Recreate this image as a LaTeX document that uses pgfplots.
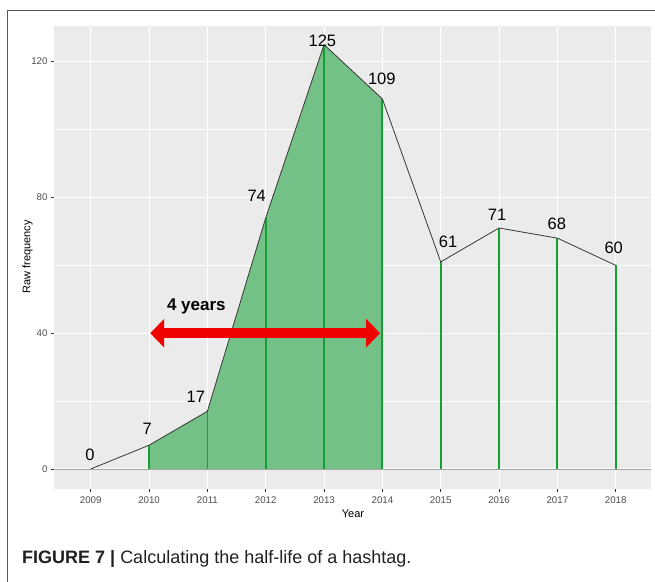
\documentclass[border=0pt]{standalone}
\usepackage{pgfplots}
\pgfplotsset{compat=1.18}
\usetikzlibrary{arrows.meta}
\usepackage{fontspec}
\setmainfont{Liberation Sans}
\definecolor{panelbg}{HTML}{EBEBEB}
\definecolor{areagreen}{RGB}{116,193,135}
\definecolor{linegreen}{RGB}{22,160,52}
\definecolor{dataline}{RGB}{55,55,55}
\definecolor{zeroline}{RGB}{165,165,165}
\definecolor{arrowred}{RGB}{240,0,0}
\definecolor{framec}{RGB}{85,85,85}
\definecolor{gray30}{HTML}{4D4D4D}
\definecolor{gray20}{HTML}{333333}
\begin{document}
\begin{tikzpicture}
\begin{axis}[
  at={(54pt,-489pt)}, anchor=south west,
  scale only axis, width=597pt, height=463pt,
  xmin=2008.37, xmax=2018.605, ymin=-5.9, ymax=130.5,
  axis background/.style={fill=panelbg},
  axis line style={draw=none},
  xtick={2009,2010,2011,2012,2013,2014,2015,2016,2017,2018},
  ytick={0,40,80,120},
  minor ytick={20,60,100},
  xmajorgrids, ymajorgrids, yminorgrids,
  major grid style={white, line width=1.1pt},
  minor grid style={white, line width=0.55pt},
  tick align=outside,
  major tick length=3pt, minor tick length=0pt,
  tick style={gray20, line width=0.6pt},
  xtick pos=bottom, ytick pos=left,
  /pgf/number format/assume math mode=true,
  /pgf/number format/1000 sep={},
  ticklabel style={font=\fontsize{9.7}{10}\selectfont, text=gray30},
  xticklabel style={yshift=-1pt},
  clip=false,
]
% area from 2010 to 2014
\addplot[draw=none, fill=areagreen] coordinates {(2010,7) (2011,17) (2012,74) (2013,125) (2014,109)} \closedcycle;
% zero line
\addplot[zeroline, line width=0.9pt] coordinates {(2008.37,0) (2018.605,0)};
% vertical green lines
\addplot[ycomb, linegreen, line width=1.8pt, mark=none] coordinates {
(2010,7) (2011,17) (2012,74) (2013,125) (2014,109) (2015,61) (2016,71) (2017,68) (2018,60)};
% main line
\addplot[dataline, line width=0.8pt, mark=none] coordinates {
(2009,0) (2010,7) (2011,17) (2012,74) (2013,125) (2014,109) (2015,61) (2016,71) (2017,68) (2018,60)};
% labels
\tikzset{lbl/.style={font=\fontsize{16.5}{17}\selectfont, text=black, inner sep=0pt}}
\node[lbl, xshift=-0.7pt, yshift=14pt] at (axis cs:2009,0) {0};
\node[lbl, xshift=-1.8pt, yshift=16pt] at (axis cs:2010,7) {7};
\node[lbl, xshift=-11.5pt, yshift=14pt] at (axis cs:2011,17) {17};
\node[lbl, xshift=-9pt, yshift=22pt] at (axis cs:2012,74) {74};
\node[lbl, xshift=-1.7pt, yshift=4pt] at (axis cs:2013,125) {125};
\node[lbl, xshift=-0.6pt, yshift=20pt] at (axis cs:2014,109) {109};
\node[lbl, xshift=7.4pt, yshift=20pt] at (axis cs:2015,61) {61};
\node[lbl, xshift=-2pt, yshift=13pt] at (axis cs:2016,71) {71};
\node[lbl, xshift=-0.5pt, yshift=14pt] at (axis cs:2017,68) {68};
\node[lbl, xshift=-2pt, yshift=17pt] at (axis cs:2018,60) {60};
% arrow
\draw[arrowred, line width=10pt, {Triangle[length=14pt,width=28pt]}-{Triangle[length=14pt,width=28pt]}]
  (axis cs:2010.02,40) -- (axis cs:2013.96,40);
\node[font=\fontsize{17}{18}\selectfont\bfseries, inner sep=0pt] at (axis cs:2010.81,47.8) {4 years};
\end{axis}
% axis titles
\node[font=\fontsize{11}{12}\selectfont, text=black] at (353pt,-514pt) {Year};
\node[font=\fontsize{11}{12}\selectfont, text=black, rotate=90] at (27.5pt,-257pt) {Raw frequency};
% frame
\draw[framec, line width=1.5pt] (7.3pt,-590pt) -- (7.3pt,-10.7pt) -- (670pt,-10.7pt);
% caption
\node[anchor=west, inner sep=0pt, text={rgb,255:red,35;green,31;blue,32}, font=\fontsize{18}{20}\selectfont] at (22pt,-559pt) {\textbf{FIGURE 7 |} Calculating the half-life of a hashtag.};
\pgfresetboundingbox
\path[use as bounding box] (0pt,0pt) rectangle (655pt,-581pt);
\end{tikzpicture}
\end{document}
